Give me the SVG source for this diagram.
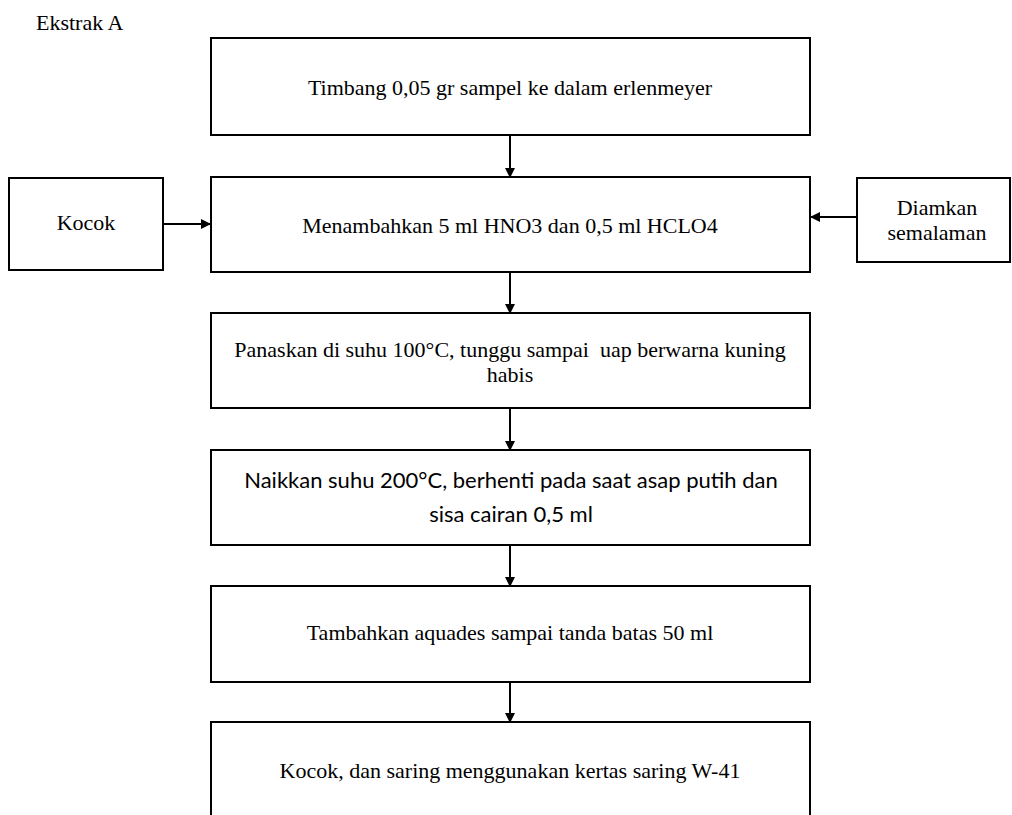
<svg xmlns="http://www.w3.org/2000/svg" width="1012" height="815" viewBox="0 0 1012 815">
<style>
.box{fill:#fff;stroke:#000;stroke-width:2}
.t{font-family:"Liberation Serif","Times New Roman",serif;font-size:22px;fill:#000;text-anchor:middle}
.s{font-family:Lato,"Open Sans",sans-serif;font-size:22px;fill:#000;text-anchor:middle}
.c{stroke:#000;stroke-width:2;fill:none;marker-end:url(#ah)}
</style>
<defs>
<marker id="ah" markerWidth="10" markerHeight="10" refX="9" refY="5" orient="auto" markerUnits="userSpaceOnUse">
<path d="M0,0 L10,5 L0,10 Z" fill="#000"/>
</marker>
</defs>
<rect width="1012" height="815" fill="#fff"/>
<text x="36" y="30" style="font-family:'Liberation Serif',serif;font-size:22px">Ekstrak A</text>
<g id="connectors">
<line class="c" x1="510" y1="136" x2="510" y2="177"/>
<line class="c" x1="163" y1="224" x2="210" y2="224"/>
<line class="c" x1="857" y1="217" x2="811" y2="217"/>
<line class="c" x1="510" y1="273" x2="510" y2="313"/>
<line class="c" x1="510" y1="409" x2="510" y2="450"/>
<line class="c" x1="510" y1="546" x2="510" y2="586"/>
<line class="c" x1="510" y1="683" x2="510" y2="722"/>
</g>
<g id="n1"><rect class="box" x="211" y="38" width="599" height="97"/><text class="t" x="510" y="95">Timbang 0,05 gr sampel ke dalam erlenmeyer</text></g>
<g id="n2"><rect class="box" x="211" y="177" width="599" height="95"/><text class="t" x="510" y="233">Menambahkan 5 ml HNO3 dan 0,5 ml HCLO4</text></g>
<g id="kocok"><rect class="box" x="9" y="178" width="154" height="92"/><text class="t" x="86" y="230">Kocok</text></g>
<g id="diamkan"><rect class="box" x="857" y="178" width="153" height="84"/><text class="t" x="937" y="215">Diamkan</text><text class="t" x="937" y="240">semalaman</text></g>
<g id="n3"><rect class="box" x="211" y="313" width="599" height="95"/><text class="t" x="510" y="357" xml:space="preserve">Panaskan di suhu 100°C, tunggu sampai  uap berwarna kuning</text><text class="t" x="510" y="382">habis</text></g>
<g id="n4"><rect class="box" x="211" y="450" width="599" height="95"/><text class="s" x="511" y="488">Naikkan suhu 200°C, berhenti pada saat asap putih dan</text><text class="s" x="511" y="522">sisa cairan 0,5 ml</text></g>
<g id="n5"><rect class="box" x="211" y="586" width="599" height="96"/><text class="t" x="510" y="640">Tambahkan aquades sampai tanda batas 50 ml</text></g>
<g id="n6"><rect class="box" x="211" y="722" width="599" height="110"/><text class="t" x="510" y="778">Kocok, dan saring menggunakan kertas saring W-41</text></g>
</svg>
